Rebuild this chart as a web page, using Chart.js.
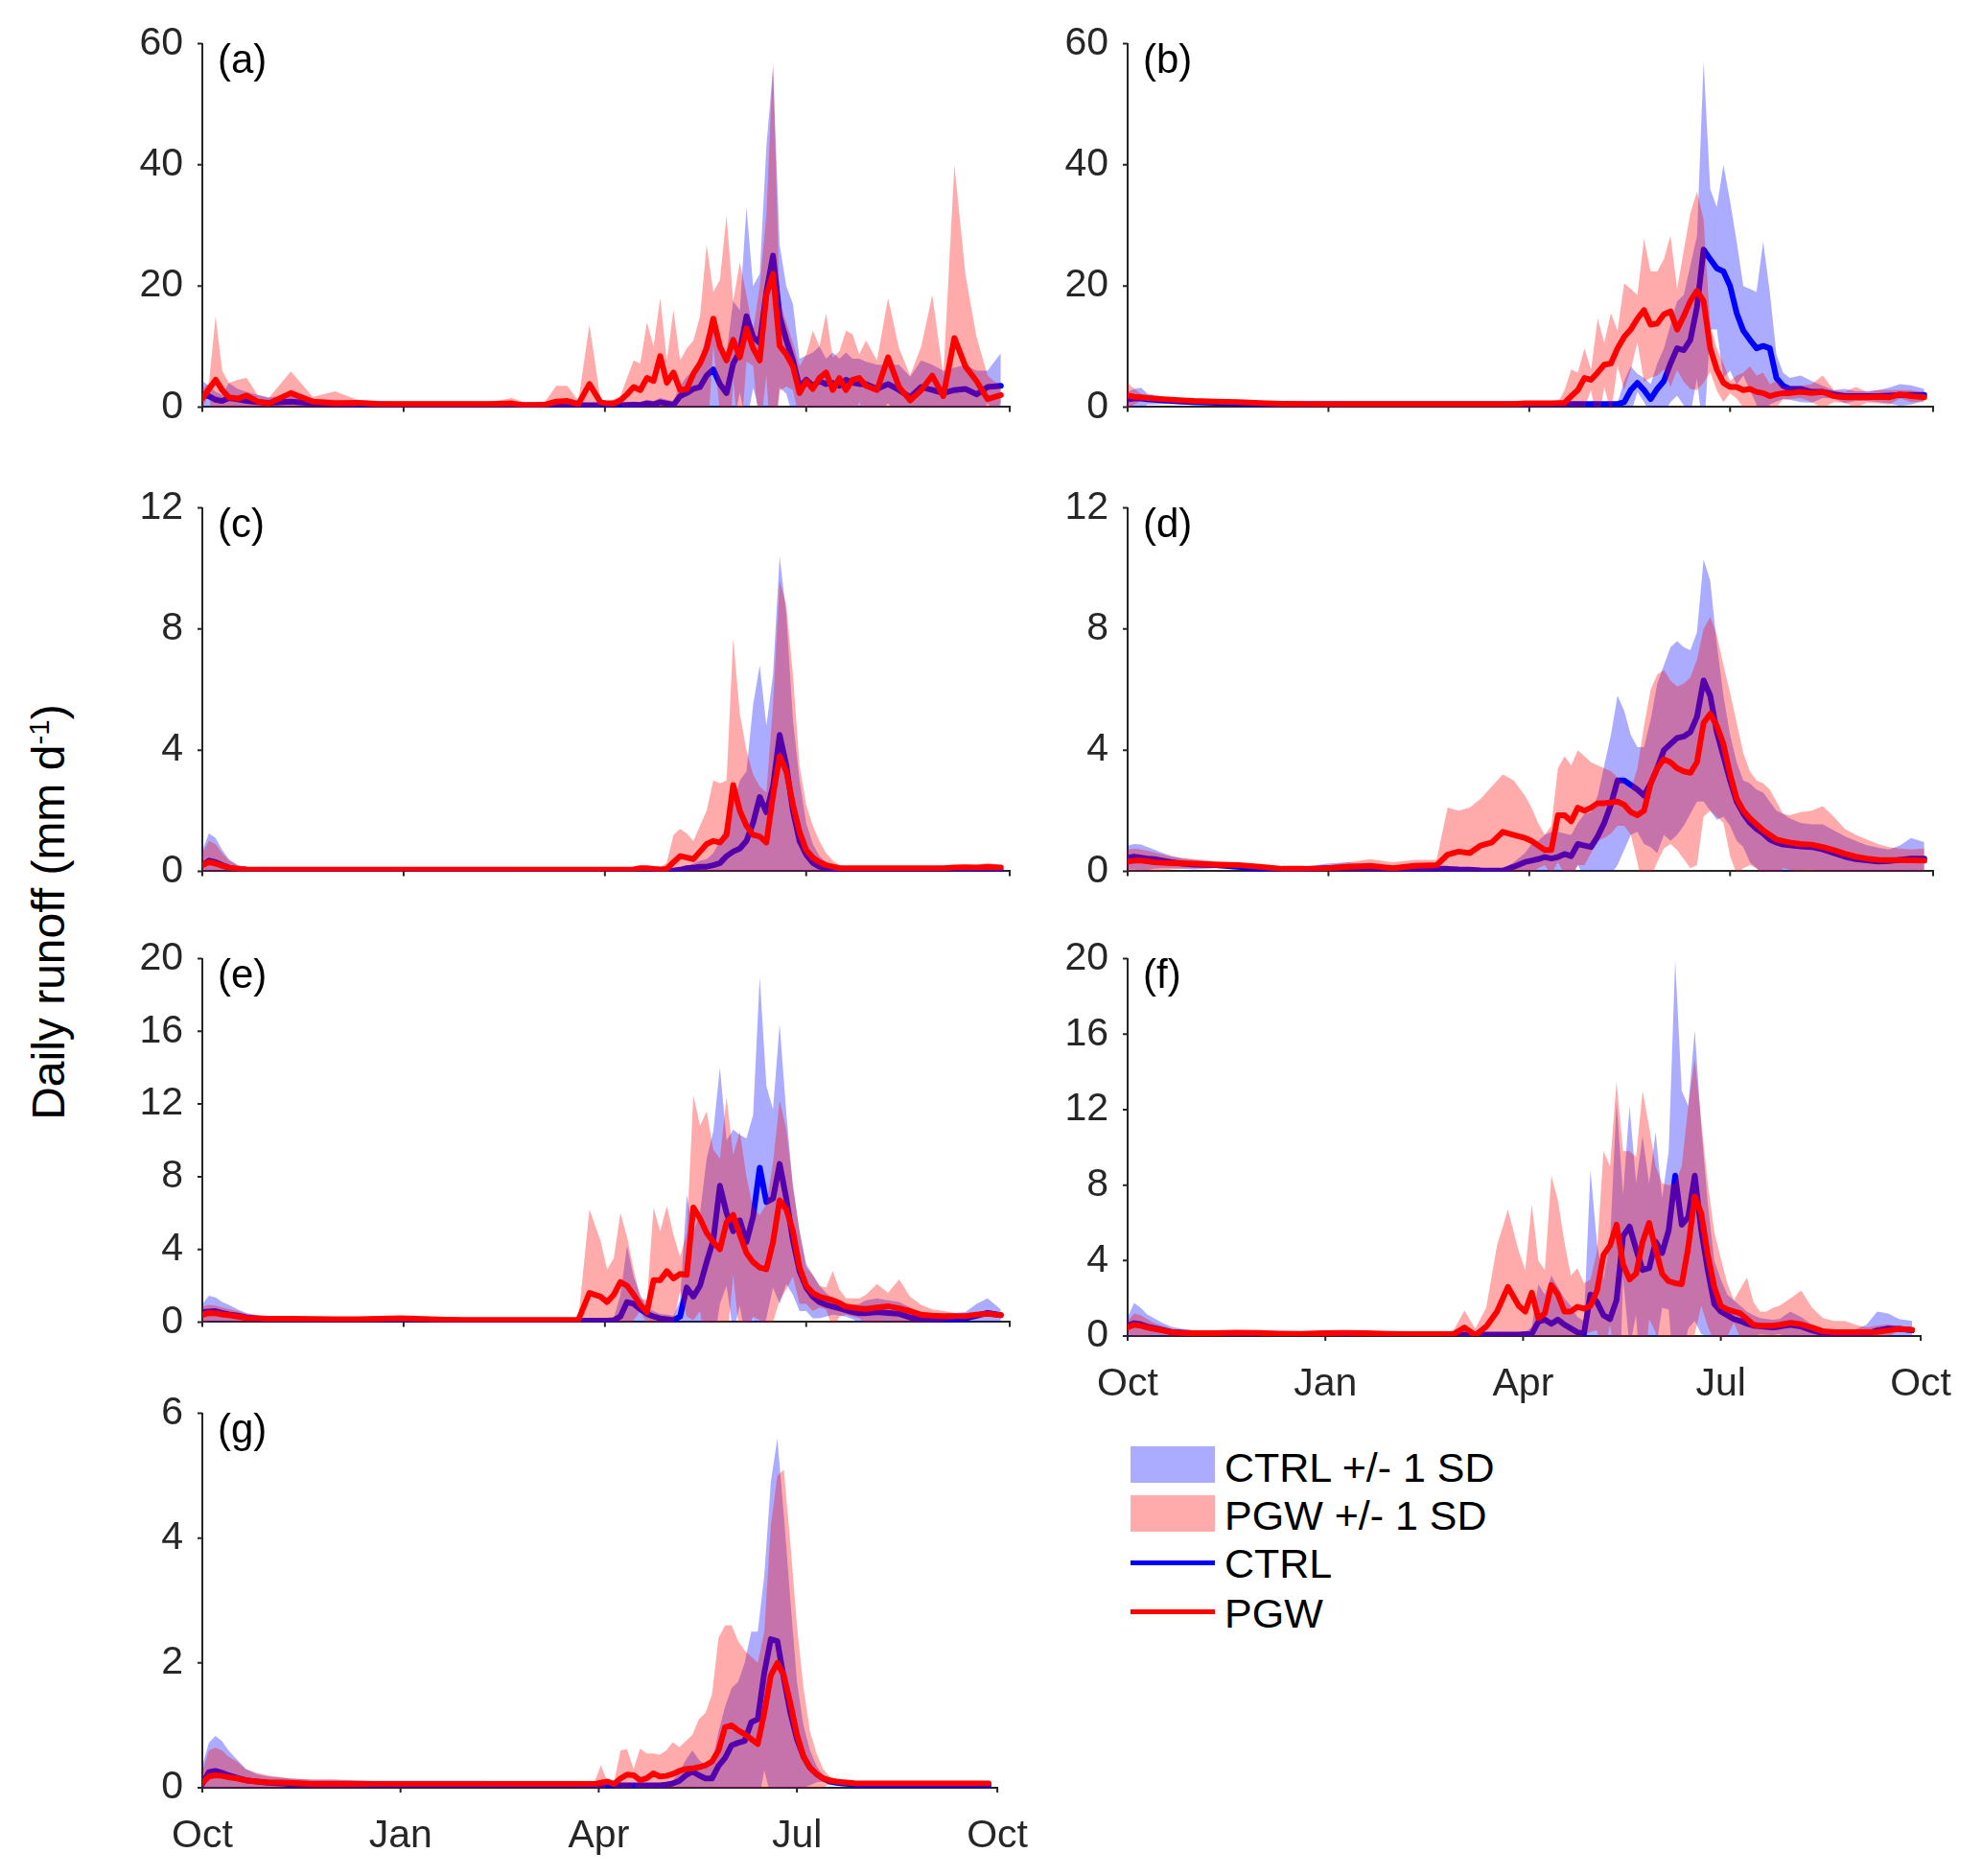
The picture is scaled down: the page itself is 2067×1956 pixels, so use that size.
<!DOCTYPE html>
<html>
<head>
<meta charset="utf-8">
<title>Daily runoff, CTRL vs PGW</title>
<script src="https://cdn.jsdelivr.net/npm/chart.js@4.4.1/dist/chart.umd.min.js"></script>
<style>
  html, body { margin: 0; padding: 0; background: #fff; }
  #page { position: relative; width: 2067px; height: 1956px; overflow: hidden;
          font-family: "Liberation Sans", Arial, sans-serif; color: #000; }
  #page canvas { position: absolute; }
  #ylabel { position: absolute; left: 51px; top: 951px; font-size: 48px; line-height: 48px;
            white-space: nowrap; transform: translate(-50%, -50%) rotate(-90deg); }
  #ylabel sup { font-size: 0.62em; line-height: 0; vertical-align: 0.55em; }
  .sw { position: absolute; left: 1179px; width: 88px; }
  .lt { position: absolute; left: 1277px; font-size: 43px; line-height: 50px; white-space: nowrap; }
</style>
</head>
<body>
<div id="page">
  <div id="ylabel">Daily runoff (mm d<sup>-1</sup>)</div>
  <div class="sw" style="top:1508px;height:38px;background:rgba(0,0,255,0.33)"></div>
  <div class="lt" style="top:1505px">CTRL +/- 1 SD</div>
  <div class="sw" style="top:1559px;height:38px;background:rgba(255,0,0,0.33)"></div>
  <div class="lt" style="top:1555px">PGW +/- 1 SD</div>
  <div class="sw" style="top:1627px;height:5px;background:#0000ff"></div>
  <div class="lt" style="top:1605px">CTRL</div>
  <div class="sw" style="top:1678px;height:5px;background:#ff0000"></div>
  <div class="lt" style="top:1657px">PGW</div>
</div>
<script>
// Day of water year (0 = 1 Oct)
const days = [
  0, 3, 6, 9, 12, 16, 20, 25,
  30, 40, 50, 60, 70, 80, 90, 100, 110, 120, 130, 140,
  145, 150, 155, 160, 165, 170, 175,
  180, 183, 186, 189, 192, 195, 198, 201, 204, 207, 210, 213, 216, 219, 222, 225, 228, 231, 234, 237,
  240, 243, 246, 249, 252, 255, 258, 261, 264, 267, 270, 273, 276, 279, 282, 285, 288, 291, 294, 297, 300,
  305, 310, 315, 320, 325, 330, 335, 340, 345, 350, 355, 361
];
const monthTicks = [0, 91, 182, 273, 365];
const monthLabels = ['Oct', 'Jan', 'Apr', 'Jul', 'Oct'];

// "Hi" arrays are the mean + 1 SD edge of each band

// (a)
const aCtrl = [
  2.0, 1.8, 1.2, 1.0, 1.5, 1.3, 1.0, 0.8,
  0.7, 0.9, 0.6, 0.5, 0.4, 0.4, 0.4, 0.4, 0.4, 0.4, 0.4, 0.4,
  0.3, 0.3, 0.3, 0.3, 0.3, 0.3, 0.3,
  0.3, 0.25, 0.25, 0.3, 0.35, 0.4, 0.35, 0.6, 0.45, 0.8, 0.6, 0.35, 1.8, 2.3, 3.0, 3.3, 5.2, 6.2, 3.8, 2.3,
  7.2, 9.2, 15, 11.6, 10.6, 19, 25, 15, 11.1, 7.7, 3.3, 4.5, 3.5, 4.3, 3.8, 4.0, 3.5, 4.5, 4.0, 3.8, 3.8,
  3.0, 3.8, 2.8, 1.6, 3.3, 2.8, 2.3, 2.8, 3.0, 2.1, 3.3, 3.5
];
const aCtrlHi = [
  4.3, 3.5, 2.5, 2.0, 4.0, 3.0, 2.5, 2.0,
  1.6, 2.0, 1.4, 1.2, 1.0, 0.8, 0.8, 0.8, 0.8, 0.8, 0.8, 0.8,
  0.6, 0.6, 0.6, 0.6, 0.6, 0.6, 0.6,
  0.5, 0.5, 0.5, 0.6, 0.8, 0.9, 0.8, 1.2, 1.0, 1.5, 1.2, 1.0, 3.5, 5, 6, 8, 12, 13, 10, 9,
  17.5, 16, 33, 20, 22, 43, 56, 26.8, 20, 17, 8, 8.5, 9, 10, 8, 9, 8, 9, 8, 8, 7.5,
  7, 7, 7, 5, 7.7, 7, 6, 6.5, 7, 6, 6, 8.9
];
const aPgw = [
  1.4, 3.0, 4.5, 2.8, 1.6, 1.4, 1.9, 0.9,
  0.6, 2.3, 0.9, 0.6, 0.7, 0.5, 0.5, 0.5, 0.5, 0.5, 0.5, 0.6,
  0.3, 0.3, 0.4, 0.9, 1.0, 0.5, 3.8,
  0.8, 0.6, 0.6, 1.1, 2.1, 3.3, 2.8, 4.8, 4.3, 8.4, 4.0, 5.7, 2.8, 3.0, 5.5, 7.2, 9.7, 14.6, 10, 7.7,
  11.1, 8.2, 13, 9.7, 7.7, 18.5, 22, 10.1, 8.7, 6.7, 2.3, 4.3, 3.0, 4.8, 5.7, 2.8, 4.8, 2.8, 4.5, 4.8, 3.5,
  2.8, 8.2, 3.3, 1.1, 2.8, 5.2, 1.8, 11.4, 6.7, 4.3, 1.3, 2.0
];
const aPgwHi = [
  3.0, 4.0, 15, 6.0, 4.0, 4.5, 4.8, 2.0,
  1.5, 5.9, 1.7, 2.6, 1.2, 1.0, 0.8, 0.8, 0.8, 0.8, 0.8, 1.5,
  0.8, 0.8, 0.9, 3.5, 3.5, 1.0, 13.6,
  1.3, 0.8, 1.3, 1.8, 4.8, 7.7, 7.2, 14, 10, 18, 7.7, 16, 7.7, 9.7, 11, 15, 26.8, 19, 21, 31.7,
  17.5, 23.9, 18.5, 12.6, 20, 31.7, 57, 17.5, 14, 10.6, 6.7, 8.7, 12.6, 10, 15.5, 8.2, 9.2, 12.6, 12, 8.7, 11,
  7.7, 18, 9.7, 5.2, 10, 18.5, 5.2, 40, 21.9, 11.6, 5.2, 3.3
];

// (b)
const bCtrl = [
  1.3, 1.4, 1.4, 1.3, 1.2, 1.1, 1.0, 0.9,
  0.8, 0.7, 0.6, 0.5, 0.45, 0.45, 0.45, 0.45, 0.45, 0.45, 0.45, 0.45,
  0.45, 0.45, 0.45, 0.45, 0.45, 0.45, 0.45,
  0.5, 0.5, 0.5, 0.5, 0.5, 0.5, 0.5, 0.5, 0.5, 0.5, 0.5, 0.5, 0.5, 0.5, 0.5, 0.8, 2.8, 4.0, 2.8, 1.3,
  3.0, 4.3, 7.2, 9.7, 9.4, 11.1, 16.5, 26, 24.4, 22.9, 22.4, 20, 15.5, 12.6, 11.1, 9.7, 10.1, 9.7, 4.8, 3.5, 3.0,
  3.0, 2.5, 2.5, 2.1, 1.8, 1.8, 1.8, 1.8, 1.9, 2.0, 2.0, 2.0
];
const bCtrlHi = [
  2.5, 3.0, 3.2, 2.2, 2.0, 1.7, 1.5, 1.4,
  1.3, 1.1, 1.0, 0.9, 0.7, 0.7, 0.7, 0.7, 0.7, 0.7, 0.7, 0.7,
  0.7, 0.7, 0.7, 0.7, 0.7, 0.7, 0.7,
  0.7, 0.7, 0.7, 0.7, 0.7, 0.7, 0.7, 0.7, 0.7, 0.7, 0.7, 0.7, 0.7, 0.7, 0.7, 4.3, 6.7, 5.5, 4.8, 3.8,
  7.2, 9.7, 13.6, 17.5, 18.5, 23.4, 28.3, 57, 36, 33, 40, 34, 27.3, 20, 19.5, 19, 27.3, 19, 8.7, 5.7, 4.8,
  5.2, 4.3, 3.5, 2.8, 3.0, 2.6, 2.6, 2.8, 3.2, 3.8, 3.6, 3.0
];
const bPgw = [
  1.9, 1.7, 1.6, 1.5, 1.4, 1.3, 1.2, 1.1,
  1.0, 0.9, 0.8, 0.65, 0.55, 0.5, 0.5, 0.5, 0.5, 0.5, 0.5, 0.5,
  0.5, 0.5, 0.5, 0.5, 0.5, 0.5, 0.5,
  0.6, 0.6, 0.6, 0.6, 0.6, 0.65, 0.7, 1.8, 2.8, 4.8, 4.5, 5.7, 7.0, 7.2, 9.7, 11.6, 12.8, 14.6, 16, 13.6,
  13.8, 15.3, 15.8, 12.8, 15, 17.5, 19.2, 17.5, 9.7, 6.2, 4.0, 3.3, 3.3, 2.8, 3.0, 2.5, 2.3, 1.8, 2.1, 2.3, 2.3,
  2.5, 2.3, 2.5, 1.8, 1.6, 1.6, 1.6, 1.7, 1.6, 2.1, 1.8, 1.6
];
const bPgwHi = [
  4.0, 3.0, 2.2, 2.0, 1.8, 1.6, 1.5, 1.3,
  1.2, 1.1, 1.0, 0.9, 0.7, 0.7, 0.7, 0.7, 0.7, 0.7, 0.7, 0.7,
  0.7, 0.7, 0.7, 0.7, 0.7, 0.7, 0.7,
  0.7, 0.7, 0.7, 0.7, 0.7, 0.8, 2.8, 6.2, 5.7, 9.7, 6.2, 14.6, 10.6, 15.5, 12.6, 20.4, 19.5, 18.5, 27.8, 22.4,
  22.4, 24.4, 28.3, 19.5, 25.8, 32, 35.6, 31, 13.6, 9.7, 7.2, 4.3, 5.2, 5.7, 6.7, 5.2, 5.7, 3.8, 4.3, 3.3, 3.3,
  3.5, 3.8, 5.2, 2.8, 2.5, 3.3, 2.5, 2.8, 2.8, 2.8, 2.8, 2.3
];

// (c)
const cCtrl = [
  0.2, 0.35, 0.3, 0.2, 0.12, 0.07, 0.05, 0.04,
  0.03, 0.03, 0.03, 0.03, 0.03, 0.03, 0.03, 0.03, 0.03, 0.03, 0.03, 0.03,
  0.02, 0.02, 0.02, 0.02, 0.02, 0.02, 0.02,
  0.02, 0.02, 0.02, 0.02, 0.02, 0.02, 0.02, 0.02, 0.02, 0.02, 0.02, 0.02, 0.05, 0.1, 0.12, 0.15, 0.15, 0.2, 0.27, 0.5,
  0.65, 0.75, 1.0, 1.6, 2.45, 1.95, 2.8, 4.5, 3.5, 2.0, 1.0, 0.55, 0.28, 0.15, 0.1, 0.06, 0.04, 0.03, 0.03, 0.03, 0.03,
  0.02, 0.02, 0.02, 0.02, 0.02, 0.02, 0.02, 0.02, 0.02, 0.02, 0.02, 0.02
];
const cCtrlHi = [
  0.7, 1.25, 1.1, 0.7, 0.4, 0.2, 0.12, 0.08,
  0.06, 0.06, 0.06, 0.06, 0.06, 0.06, 0.06, 0.06, 0.06, 0.06, 0.06, 0.06,
  0.05, 0.05, 0.05, 0.05, 0.05, 0.05, 0.05,
  0.05, 0.05, 0.05, 0.05, 0.05, 0.05, 0.05, 0.05, 0.05, 0.05, 0.05, 0.06, 0.1, 0.15, 0.25, 0.35, 0.4, 0.6, 1.0, 1.6,
  2.2, 3.0, 3.3, 5.5, 6.8, 4.8, 6.5, 10.4, 8.5, 5.0, 3.0, 1.6, 0.9, 0.5, 0.3, 0.2, 0.12, 0.08, 0.06, 0.06, 0.06,
  0.06, 0.06, 0.06, 0.06, 0.06, 0.06, 0.06, 0.06, 0.06, 0.06, 0.06, 0.06
];
const cPgw = [
  0.2, 0.3, 0.25, 0.18, 0.12, 0.08, 0.06, 0.05,
  0.05, 0.05, 0.05, 0.05, 0.05, 0.05, 0.05, 0.05, 0.05, 0.05, 0.05, 0.05,
  0.05, 0.05, 0.05, 0.05, 0.05, 0.05, 0.05,
  0.05, 0.05, 0.05, 0.05, 0.05, 0.06, 0.1, 0.1, 0.08, 0.06, 0.08, 0.3, 0.5, 0.45, 0.4, 0.65, 0.9, 1.0, 0.95, 1.2,
  2.85, 2.0, 1.5, 1.2, 1.15, 0.95, 2.5, 3.8, 3.3, 2.2, 1.3, 0.7, 0.45, 0.3, 0.2, 0.15, 0.1, 0.1, 0.1, 0.1, 0.1,
  0.1, 0.1, 0.1, 0.1, 0.1, 0.1, 0.1, 0.12, 0.13, 0.12, 0.14, 0.12
];
const cPgwHi = [
  0.6, 1.0, 0.9, 0.6, 0.35, 0.2, 0.12, 0.1,
  0.08, 0.08, 0.08, 0.08, 0.08, 0.08, 0.08, 0.08, 0.08, 0.08, 0.08, 0.08,
  0.08, 0.08, 0.08, 0.08, 0.08, 0.08, 0.08,
  0.08, 0.08, 0.08, 0.08, 0.08, 0.08, 0.15, 0.12, 0.1, 0.1, 0.3, 1.2, 1.4, 1.25, 1.0, 1.5, 2.0, 3.0, 2.9, 3.0,
  7.7, 5.2, 4.0, 3.2, 2.8, 2.6, 5.5, 9.6, 8.8, 6.5, 3.5, 2.2, 1.5, 1.0, 0.6, 0.35, 0.2, 0.15, 0.12, 0.12, 0.12,
  0.12, 0.12, 0.12, 0.12, 0.12, 0.12, 0.15, 0.2, 0.22, 0.2, 0.28, 0.2
];

// (d)
const dCtrl = [
  0.45, 0.48, 0.45, 0.42, 0.4, 0.35, 0.3, 0.25,
  0.22, 0.2, 0.15, 0.06, 0.02, 0.05, 0.1, 0.12, 0.1, 0.05, 0.04, 0.08,
  0.08, 0.06, 0.05, 0.03, 0.02, 0.02, 0.15,
  0.3, 0.35, 0.4, 0.47, 0.42, 0.47, 0.57, 0.5, 0.9, 0.85, 0.8, 1.15, 1.6, 2.2, 3.0, 3.0, 2.85, 2.7, 2.5, 2.9,
  3.4, 4.0, 4.2, 4.4, 4.45, 4.6, 5.1, 6.3, 5.8, 4.6, 3.8, 3.0, 2.3, 1.9, 1.6, 1.4, 1.25, 1.05, 0.95, 0.88, 0.86,
  0.82, 0.8, 0.72, 0.6, 0.48, 0.4, 0.36, 0.32, 0.34, 0.38, 0.42, 0.42
];
const dCtrlHi = [
  0.85, 0.9, 0.88, 0.8, 0.72, 0.6, 0.5, 0.42,
  0.38, 0.3, 0.25, 0.15, 0.1, 0.15, 0.25, 0.3, 0.2, 0.12, 0.1, 0.12,
  0.12, 0.1, 0.08, 0.06, 0.05, 0.06, 0.3,
  0.6, 0.9, 1.0, 1.2, 1.3, 1.3, 1.25, 1.2, 1.6, 1.9, 1.95, 2.5, 3.5, 4.5, 5.8, 5.3, 4.5, 4.1, 4.1, 5.0,
  6.2, 6.8, 7.4, 7.6, 7.4, 7.3, 7.9, 10.3, 9.6, 7.5, 5.8, 4.5, 3.6, 3.0, 2.9, 2.7, 2.6, 2.3, 2.0, 1.9, 1.75,
  1.6, 1.55, 1.55, 1.35, 1.15, 1.0, 0.86, 0.78, 0.72, 0.85, 1.1, 0.96
];
const dPgw = [
  0.32, 0.35, 0.35, 0.33, 0.3, 0.28, 0.27, 0.26,
  0.25, 0.22, 0.2, 0.15, 0.08, 0.08, 0.1, 0.15, 0.18, 0.1, 0.18, 0.2,
  0.55, 0.65, 0.6, 0.85, 0.95, 1.3, 1.2,
  1.1, 1.0, 0.85, 0.7, 0.7, 1.85, 1.85, 1.65, 2.1, 2.0, 2.1, 2.25, 2.25, 2.27, 2.3, 2.2, 1.95, 1.85, 2.0, 2.9,
  3.4, 3.7, 3.6, 3.4, 3.3, 3.25, 3.6, 4.9, 5.2, 4.8, 4.2, 3.2, 2.4, 2.0, 1.75, 1.55, 1.35, 1.2, 1.05, 1.0, 0.95,
  0.9, 0.88, 0.8, 0.7, 0.58, 0.48, 0.42, 0.38, 0.37, 0.37, 0.36, 0.35
];
const dPgwHi = [
  0.72, 0.75, 0.72, 0.68, 0.62, 0.55, 0.48, 0.44,
  0.4, 0.33, 0.28, 0.2, 0.12, 0.12, 0.18, 0.3, 0.4, 0.3, 0.38, 0.38,
  2.1, 2.0, 2.1, 2.4, 2.8, 3.2, 3.0,
  2.5, 2.1, 1.6, 1.2, 1.5, 3.4, 3.8, 3.5, 4.0, 3.8, 3.6, 3.5, 3.4, 3.3, 3.1, 2.9, 2.7, 3.4, 4.8, 6.0,
  6.5, 6.65, 6.3, 6.1, 6.2, 6.4, 7.0, 8.0, 8.4, 7.8, 6.8, 5.9, 4.9, 3.9, 3.3, 3.0, 2.9, 2.7, 2.3, 1.9, 1.85,
  1.95, 2.0, 2.15, 1.8, 1.4, 1.2, 1.05, 0.9, 0.8, 0.75, 0.72, 0.75
];

// (e)
const eCtrl = [
  0.55, 0.58, 0.6, 0.5, 0.42, 0.35, 0.25, 0.18,
  0.14, 0.12, 0.1, 0.08, 0.08, 0.08, 0.08, 0.08, 0.08, 0.08, 0.08, 0.08,
  0.08, 0.08, 0.08, 0.08, 0.08, 0.08, 0.08,
  0.08, 0.08, 0.1, 0.3, 1.1, 1.0, 0.7, 0.45, 0.3, 0.2, 0.15, 0.1, 0.3, 1.9, 1.4, 2.0, 3.3, 4.5, 7.5, 6.0,
  5.0, 5.6, 4.4, 5.8, 8.5, 6.6, 6.8, 8.7, 6.8, 4.5, 2.8, 1.9, 1.4, 1.1, 0.95, 0.85, 0.75, 0.65, 0.55, 0.48, 0.48,
  0.55, 0.5, 0.45, 0.25, 0.18, 0.13, 0.13, 0.15, 0.2, 0.35, 0.5, 0.38
];
const eCtrlHi = [
  1.0, 1.45, 1.35, 1.1, 0.95, 0.7, 0.5, 0.38,
  0.3, 0.25, 0.2, 0.15, 0.15, 0.15, 0.15, 0.15, 0.15, 0.15, 0.15, 0.15,
  0.15, 0.15, 0.15, 0.15, 0.15, 0.15, 0.15,
  0.15, 0.15, 0.2, 1.5, 4.2, 2.5, 1.5, 0.8, 0.6, 0.45, 0.4, 0.35, 1.2, 7.0, 5.0, 6.0, 9.0, 10.5, 14.0, 10.0,
  10.6, 10.3, 10.1, 11.4, 19.0, 13.0, 11.7, 16.4, 11.5, 7.5, 5.0, 3.2, 2.6, 2.0, 1.6, 1.3, 1.15, 1.0, 0.95, 1.0, 1.2,
  1.3, 1.2, 1.1, 0.8, 0.5, 0.45, 0.45, 0.5, 0.55, 1.0, 1.3, 0.7
];
const ePgw = [
  0.38, 0.5, 0.48, 0.42, 0.38, 0.3, 0.22, 0.2,
  0.18, 0.18, 0.16, 0.15, 0.15, 0.18, 0.2, 0.16, 0.13, 0.12, 0.12, 0.12,
  0.12, 0.12, 0.12, 0.12, 0.12, 0.12, 1.6,
  1.4, 1.1, 1.5, 2.2, 2.0, 1.5, 0.95, 0.55, 2.3, 2.3, 2.8, 2.4, 2.65, 2.6, 6.3, 5.7, 4.9, 4.4, 4.0, 5.5,
  5.9, 4.8, 3.8, 3.3, 3.0, 2.9, 4.4, 6.7, 6.2, 5.0, 3.0, 2.0, 1.6, 1.4, 1.3, 1.2, 1.05, 0.85, 0.8, 0.75, 0.72,
  0.8, 0.87, 0.75, 0.6, 0.4, 0.35, 0.33, 0.33, 0.33, 0.4, 0.46, 0.38
];
const ePgwHi = [
  0.85, 0.95, 0.9, 0.8, 0.72, 0.6, 0.45, 0.35,
  0.3, 0.28, 0.25, 0.22, 0.2, 0.25, 0.28, 0.22, 0.2, 0.18, 0.18, 0.18,
  0.18, 0.18, 0.18, 0.18, 0.18, 0.18, 6.2,
  4.5, 2.9, 3.5, 6.0, 4.7, 2.9, 1.3, 1.2, 6.3, 5.0, 6.4, 4.8, 3.6, 4.9, 12.5, 10.8, 11.6, 9.5, 9.0, 12.4,
  9.2, 10.5, 8.0, 6.3, 5.9, 6.5, 8.8, 12.2, 10.6, 7.5, 5.0, 3.0, 2.6, 2.0, 1.9, 2.8, 1.8, 1.3, 1.3, 1.3, 1.5,
  2.1, 1.6, 2.35, 1.4, 0.95, 0.7, 0.62, 0.5, 0.4, 0.45, 0.55, 0.46
];

// (f)
const fCtrl = [
  0.55, 0.68, 0.62, 0.5, 0.42, 0.32, 0.22, 0.18,
  0.15, 0.12, 0.08, 0.08, 0.08, 0.08, 0.08, 0.08, 0.08, 0.08, 0.08, 0.08,
  0.08, 0.08, 0.08, 0.08, 0.08, 0.08, 0.08,
  0.08, 0.1, 0.12, 0.75, 0.87, 0.65, 0.87, 0.6, 0.4, 0.2, 0.13, 2.2, 1.8, 1.1, 0.9, 1.9, 5.3, 5.8, 4.6, 3.5,
  3.6, 5.0, 4.4, 5.6, 8.5, 5.9, 6.3, 8.5, 5.6, 3.5, 1.7, 1.3, 1.1, 0.9, 0.8, 0.65, 0.55, 0.52, 0.48, 0.46, 0.5,
  0.6, 0.5, 0.3, 0.15, 0.12, 0.1, 0.1, 0.12, 0.3, 0.4, 0.38, 0.3
];
const fCtrlHi = [
  1.0, 1.75, 1.5, 1.15, 0.95, 0.7, 0.5, 0.38,
  0.3, 0.22, 0.15, 0.15, 0.15, 0.15, 0.15, 0.15, 0.15, 0.15, 0.15, 0.15,
  0.15, 0.15, 0.15, 0.15, 0.15, 0.15, 0.15,
  0.15, 0.2, 0.5, 2.75, 2.2, 3.2, 2.6, 2.0, 1.6, 1.0, 0.8, 8.8, 4.9, 3.0, 5.0, 12.4, 7.5, 12.2, 8.1, 10.6,
  8.1, 10.8, 7.3, 9.8, 19.9, 13.0, 12.2, 16.2, 11.1, 7.0, 4.0, 3.0, 2.2, 1.9, 1.6, 1.3, 1.1, 0.95, 0.9, 0.87, 0.9,
  1.3, 1.0, 0.6, 0.4, 0.3, 0.3, 0.35, 0.6, 1.3, 1.2, 0.9, 0.8
];
const fPgw = [
  0.46, 0.6, 0.55, 0.45, 0.38, 0.3, 0.2, 0.16,
  0.15, 0.15, 0.18, 0.16, 0.13, 0.12, 0.15, 0.16, 0.15, 0.12, 0.1, 0.1,
  0.1, 0.1, 0.45, 0.05, 0.5, 1.3, 2.6,
  1.6, 1.3, 2.3, 0.95, 1.2, 2.7, 2.2, 1.3, 1.3, 1.55, 1.45, 1.6, 2.4, 4.3, 4.8, 5.9, 3.8, 3.0, 3.3, 5.0,
  6.0, 4.6, 3.3, 2.9, 2.8, 2.75, 4.7, 7.4, 6.5, 4.3, 2.6, 1.6, 1.4, 1.3, 1.2, 0.9, 0.6, 0.55, 0.55, 0.55, 0.6,
  0.7, 0.62, 0.45, 0.25, 0.2, 0.2, 0.2, 0.2, 0.22, 0.3, 0.38, 0.33
];
const fPgwHi = [
  0.8, 1.2, 1.1, 0.9, 0.7, 0.55, 0.4, 0.3,
  0.25, 0.22, 0.22, 0.22, 0.22, 0.22, 0.22, 0.22, 0.22, 0.22, 0.22, 0.22,
  0.2, 0.3, 1.35, 0.4, 1.5, 4.8, 6.7,
  4.5, 3.5, 7.0, 4.0, 3.5, 8.5, 7.2, 5.0, 3.2, 3.6, 2.8, 3.0, 4.5, 9.8, 9.0, 13.5, 9.8, 9.8, 9.5, 13.0,
  11.1, 9.0, 8.1, 8.0, 8.1, 9.0, 12.2, 14.7, 11.4, 8.1, 5.5, 4.1, 2.8, 1.9, 2.5, 3.1, 1.8, 1.3, 1.3, 1.5, 1.6,
  2.0, 2.4, 1.5, 0.95, 0.8, 0.8, 0.6, 0.46, 0.55, 0.62, 0.5, 0.38
];

// (g)
const gCtrl = [
  0.06, 0.25, 0.27, 0.24, 0.2, 0.16, 0.12, 0.1,
  0.08, 0.06, 0.05, 0.05, 0.05, 0.05, 0.05, 0.05, 0.05, 0.05, 0.05, 0.05,
  0.05, 0.05, 0.05, 0.05, 0.05, 0.05, 0.05,
  0.04, 0.04, 0.04, 0.04, 0.04, 0.04, 0.04, 0.04, 0.04, 0.04, 0.04, 0.05, 0.07, 0.11, 0.2, 0.26, 0.2, 0.15, 0.15, 0.35,
  0.48, 0.68, 0.72, 0.75, 1.05, 1.1, 1.84, 2.38, 2.35, 1.75, 1.2, 0.78, 0.5, 0.32, 0.22, 0.15, 0.1, 0.08, 0.07, 0.06, 0.05,
  0.04, 0.04, 0.04, 0.04, 0.04, 0.04, 0.04, 0.04, 0.04, 0.04, 0.04, 0.04
];
const gCtrlHi = [
  0.36, 0.72, 0.83, 0.75, 0.6, 0.45, 0.3, 0.22,
  0.18, 0.15, 0.13, 0.13, 0.12, 0.11, 0.11, 0.11, 0.11, 0.11, 0.11, 0.08,
  0.08, 0.08, 0.08, 0.08, 0.08, 0.08, 0.08,
  0.07, 0.07, 0.07, 0.07, 0.07, 0.07, 0.07, 0.07, 0.07, 0.07, 0.07, 0.08, 0.12, 0.25, 0.45, 0.6, 0.45, 0.35, 0.4, 0.9,
  1.3, 1.6, 1.7, 2.0, 2.5, 2.5, 3.4, 4.9, 5.6, 4.36, 3.0, 1.7, 1.0, 0.6, 0.35, 0.2, 0.12, 0.08, 0.06, 0.05, 0.05,
  0.05, 0.05, 0.05, 0.05, 0.05, 0.05, 0.05, 0.05, 0.05, 0.05, 0.05, 0.05
];
const gPgw = [
  0.08, 0.18, 0.2, 0.19, 0.17, 0.15, 0.12, 0.1,
  0.09, 0.08, 0.06, 0.06, 0.06, 0.06, 0.06, 0.06, 0.06, 0.06, 0.06, 0.06,
  0.06, 0.06, 0.06, 0.06, 0.06, 0.06, 0.06,
  0.06, 0.08, 0.1, 0.06, 0.15, 0.21, 0.2, 0.12, 0.15, 0.23, 0.18, 0.19, 0.22, 0.27, 0.3, 0.31, 0.33, 0.36, 0.42, 0.6,
  0.97, 1.0, 0.92, 0.86, 0.78, 0.7, 1.2, 1.8, 2.0, 1.8, 1.35, 0.85, 0.5, 0.32, 0.22, 0.15, 0.12, 0.1, 0.09, 0.08, 0.07,
  0.07, 0.07, 0.07, 0.07, 0.07, 0.07, 0.07, 0.07, 0.07, 0.07, 0.07, 0.07
];
const gPgwHi = [
  0.26, 0.6, 0.64, 0.6, 0.5, 0.42, 0.3, 0.24,
  0.2, 0.15, 0.13, 0.13, 0.12, 0.1, 0.1, 0.1, 0.1, 0.1, 0.1, 0.09,
  0.09, 0.09, 0.09, 0.09, 0.09, 0.09, 0.09,
  0.09, 0.36, 0.1, 0.08, 0.6, 0.62, 0.3, 0.63, 0.55, 0.55, 0.53, 0.6, 0.73, 0.65, 0.75, 0.85, 1.1, 1.2, 1.5, 2.4,
  2.6, 2.6, 2.35, 2.2, 2.1, 2.0, 2.5, 4.2, 5.0, 5.1, 3.9, 2.6, 1.6, 0.9, 0.55, 0.3, 0.18, 0.12, 0.1, 0.08, 0.08,
  0.08, 0.08, 0.08, 0.08, 0.08, 0.08, 0.08, 0.08, 0.08, 0.08, 0.08, 0.08
];

const CTRL_LINE = '#0000ff';
const PGW_LINE = '#ff0000';
const CTRL_BAND = 'rgba(0,0,255,0.33)';
const PGW_BAND = 'rgba(255,0,0,0.33)';
const AXIS = '#262626';
const FONT = '"Liberation Sans", Arial, sans-serif';

// plot boxes on the page: [left, top, right, bottom]
const panels = [
  { label: '(a)', ctrl: aCtrl, ctrlHi: aCtrlHi, pgw: aPgw, pgwHi: aPgwHi, yMax: 60, yStep: 20, box: [211, 31, 1053, 439], xLabels: false },
  { label: '(b)', ctrl: bCtrl, ctrlHi: bCtrlHi, pgw: bPgw, pgwHi: bPgwHi, yMax: 60, yStep: 20, box: [1176, 31, 2016, 439], xLabels: false },
  { label: '(c)', ctrl: cCtrl, ctrlHi: cCtrlHi, pgw: cPgw, pgwHi: cPgwHi, yMax: 12, yStep: 4, box: [211, 515, 1053, 923], xLabels: false },
  { label: '(d)', ctrl: dCtrl, ctrlHi: dCtrlHi, pgw: dPgw, pgwHi: dPgwHi, yMax: 12, yStep: 4, box: [1176, 515, 2016, 923], xLabels: false },
  { label: '(e)', ctrl: eCtrl, ctrlHi: eCtrlHi, pgw: ePgw, pgwHi: ePgwHi, yMax: 20, yStep: 4, box: [211, 985, 1053, 1393], xLabels: false },
  { label: '(f)', ctrl: fCtrl, ctrlHi: fCtrlHi, pgw: fPgw, pgwHi: fPgwHi, yMax: 20, yStep: 4, box: [1176, 985, 2016, 1393], xLabels: true },
  { label: '(g)', ctrl: gCtrl, ctrlHi: gCtrlHi, pgw: gPgw, pgwHi: gPgwHi, yMax: 6, yStep: 2, box: [211, 1459, 1053, 1864], xLabels: true }
];

// outward tick marks and the panel letter
const panelDecor = {
  id: 'panelDecor',
  afterDraw(chart, args, opts) {
    const { ctx, chartArea, scales } = chart;
    ctx.save();
    ctx.strokeStyle = AXIS;
    ctx.lineWidth = 2;
    ctx.beginPath();
    scales.y.ticks.forEach(t => {
      const py = scales.y.getPixelForValue(t.value);
      ctx.moveTo(chartArea.left - 5, py);
      ctx.lineTo(chartArea.left, py);
    });
    scales.x.ticks.forEach(t => {
      const px = scales.x.getPixelForValue(t.value);
      ctx.moveTo(px, chartArea.bottom);
      ctx.lineTo(px, chartArea.bottom + 5);
    });
    ctx.stroke();
    ctx.fillStyle = '#000';
    ctx.font = '42px ' + FONT;
    ctx.textBaseline = 'top';
    ctx.fillText(opts.label, chartArea.left + 16, chartArea.top - 2);
    ctx.restore();
  }
};

const PAD_L = 110, PAD_T = 30, PAD_R = 45;
const page = document.getElementById('page');

function pts(arr) {
  return days.map((d, i) => ({ x: d, y: arr[i] }));
}
// lower band edge = mean - 1 SD, where SD = hi - mean
function lowerEdge(mean, hi) {
  return mean.map((m, i) => m - (hi[i] - m));
}

panels.forEach(p => {
  const [x0, y0, x1, y1] = p.box;
  const xh = p.xLabels ? 80 : 30;
  const cv = document.createElement('canvas');
  cv.width = x1 - x0 + PAD_L + PAD_R;
  cv.height = y1 - y0 + PAD_T + xh;
  cv.style.left = (x0 - PAD_L) + 'px';
  cv.style.top = (y0 - PAD_T) + 'px';
  cv.style.width = cv.width + 'px';
  cv.style.height = cv.height + 'px';
  page.appendChild(cv);

  const bandStyle = { borderWidth: 0, borderColor: 'transparent', pointRadius: 0 };
  const lineStyle = { borderWidth: 6, pointRadius: 0, fill: false, borderJoinStyle: 'round', borderCapStyle: 'round' };

  new Chart(cv, {
    type: 'line',
    data: {
      datasets: [
        { label: 'CTRL +/- 1 SD', data: pts(p.ctrlHi), fill: '+1', backgroundColor: CTRL_BAND, order: 5, ...bandStyle },
        { label: 'CTRL low', data: pts(lowerEdge(p.ctrl, p.ctrlHi)), fill: false, order: 4, ...bandStyle },
        { label: 'CTRL', data: pts(p.ctrl), borderColor: CTRL_LINE, order: 3, ...lineStyle },
        { label: 'PGW +/- 1 SD', data: pts(p.pgwHi), fill: '+1', backgroundColor: PGW_BAND, order: 2, ...bandStyle },
        { label: 'PGW low', data: pts(lowerEdge(p.pgw, p.pgwHi)), fill: false, order: 1, ...bandStyle },
        { label: 'PGW', data: pts(p.pgw), borderColor: PGW_LINE, order: 0, ...lineStyle }
      ]
    },
    options: {
      responsive: false,
      animation: false,
      devicePixelRatio: 1,
      layout: { padding: { top: PAD_T, right: PAD_R, left: 0, bottom: 0 } },
      elements: { line: { tension: 0 } },
      plugins: {
        legend: { display: false },
        tooltip: { enabled: false },
        panelDecor: { label: p.label }
      },
      scales: {
        x: {
          type: 'linear',
          min: 0,
          max: 365,
          afterBuildTicks: s => { s.ticks = monthTicks.map(v => ({ value: v })); },
          afterFit: s => { s.height = xh; },
          grid: { display: false, drawTicks: false },
          border: { display: true, color: AXIS, width: 2 },
          ticks: {
            display: p.xLabels,
            autoSkip: false,
            maxRotation: 0,
            padding: 26,
            color: AXIS,
            font: { size: 41, family: FONT },
            callback: v => monthLabels[monthTicks.indexOf(v)]
          }
        },
        y: {
          min: 0,
          max: p.yMax,
          afterFit: s => { s.width = PAD_L; },
          grid: { display: false, drawTicks: false },
          border: { display: true, color: AXIS, width: 2 },
          ticks: {
            stepSize: p.yStep,
            padding: 20,
            color: AXIS,
            font: { size: 41, family: FONT }
          }
        }
      }
    },
    plugins: [panelDecor]
  });
});
</script>
</body>
</html>
